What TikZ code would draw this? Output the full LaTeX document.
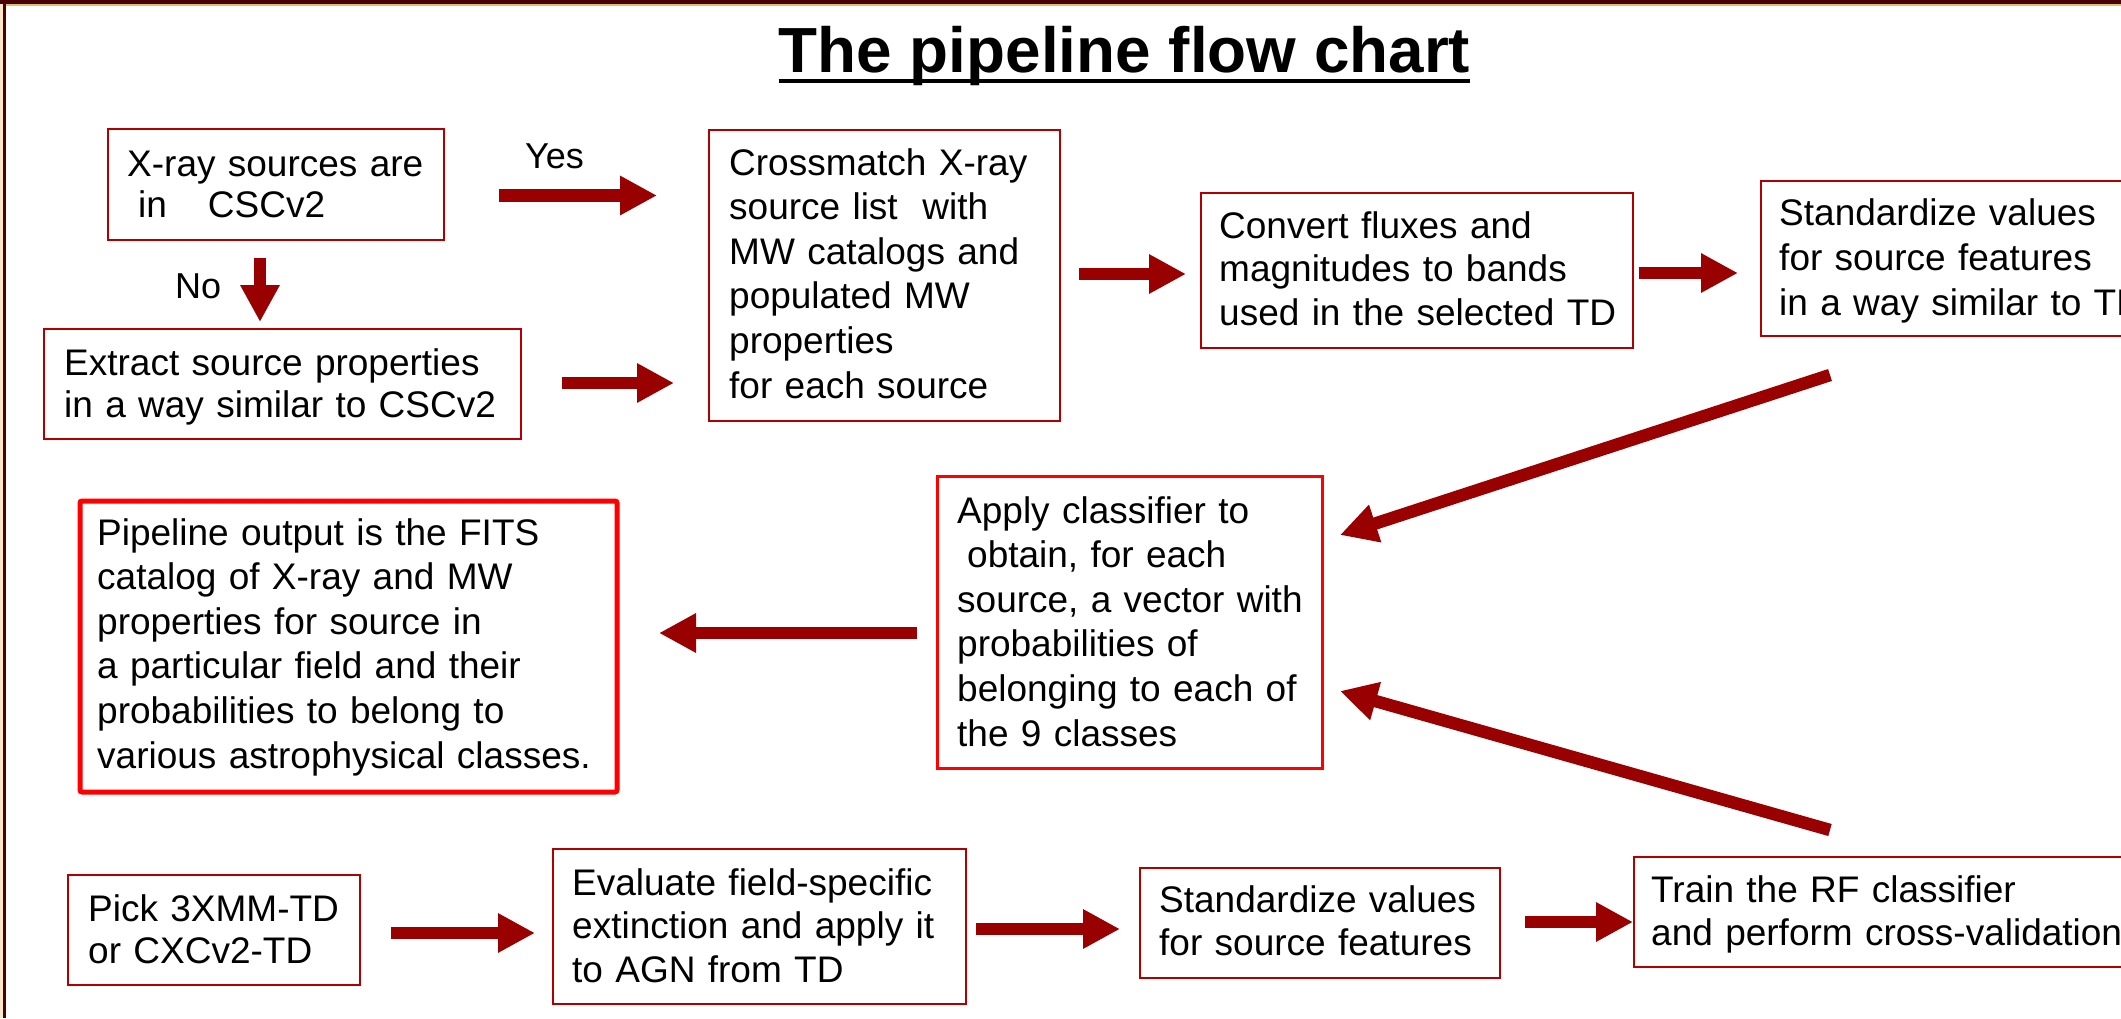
\documentclass[tikz,border=0pt]{standalone}
\usepackage{fontspec}
\setmainfont{Liberation Sans}
\usetikzlibrary{arrows.meta}

\definecolor{boxred}{RGB}{178,0,0}
\definecolor{arrowred}{RGB}{153,0,0}
\definecolor{brightred}{RGB}{255,0,0}
\definecolor{framedark}{RGB}{75,0,8}
\definecolor{framegold}{RGB}{215,195,110}
\definecolor{framebeige}{RGB}{250,230,200}

\tikzset{
  box/.style={draw=boxred, line width=1.8pt, anchor=north west, inner sep=0pt, fill=white},
  redbox/.style={draw=brightred, anchor=north west, inner sep=0pt, fill=white},
  txt/.style={anchor=base west, inner sep=0pt, text width=700pt, align=left,
              font=\fontsize{37}{#1}\selectfont},
  txt/.default=44.6,
  blockarrow/.style={draw=arrowred, line width=12.5pt,
              -{Triangle[width=37pt,length=37pt]}},
  lbl/.style={anchor=base west, inner sep=0pt, font=\fontsize{36}{40}\selectfont}
}

\begin{document}
\begin{tikzpicture}[x=1pt,y=-1pt]
  \useasboundingbox (0,0) rectangle (2121,1018);
  \clip (0,0) rectangle (2121,1018);
  \fill[white] (0,0) rectangle (2121,1018);

  % slide frame
  \fill[framebeige] (0,0) rectangle (3.3,1018);
  \fill[framedark] (3.3,0) rectangle (6,1018);
  \fill[framedark] (0,0) rectangle (2121,4);
  \fill[framegold] (6,4) rectangle (2121,6);

  % title
  \node[anchor=base, inner sep=0pt, font=\fontsize{63.8}{70}\selectfont\bfseries]
    (title) at (1124.5,72) {The pipeline flow chart};
  \draw[line width=4pt] ([yshift=-9pt]title.base west) -- ([yshift=-9pt]title.base east);

  % boxes
  \node[box, minimum width=336pt, minimum height=111pt] (src) at (107,128) {};
  \node[box, minimum width=477pt, minimum height=110pt] (extract) at (43,328) {};
  \node[box, minimum width=351pt, minimum height=291pt] (cross) at (708,129) {};
  \node[box, minimum width=432pt, minimum height=155pt] (convert) at (1200,192) {};
  \node[box, minimum width=500pt, minimum height=155pt] (stdA) at (1760,180) {};
  \node[redbox, line width=3pt, minimum width=385pt, minimum height=292pt] (apply) at (936,475) {};
  \node[redbox, line width=5pt, rounded corners=2pt, minimum width=537pt, minimum height=291pt] (output) at (77.5,498.5) {};
  \node[box, minimum width=292pt, minimum height=110pt] (pick) at (67,874) {};
  \node[box, minimum width=413pt, minimum height=155pt] (extinct) at (552,848) {};
  \node[box, minimum width=360pt, minimum height=110pt] (stdB) at (1139,867) {};
  \node[box, minimum width=600pt, minimum height=110pt] (train) at (1633,856) {};

  % box texts
  \node[txt=41] (srcT) at (127,176) {X-ray sources are\\\hspace*{11pt}in\hspace{41pt}CSCv2};
  \node[txt=42] (extractT) at (64,375) {Extract source properties\\in a way similar to CSCv2};
  \node[txt=44.6] (crossT) at (729,175) {Crossmatch X-ray\\source list\ \ with\\MW catalogs and\\populated MW\\properties\\for each source};
  \node[txt=43.5] (convertT) at (1219,238) {Convert fluxes and\\magnitudes to bands\\used in the selected TD};
  \node[txt=45] (stdAT) at (1779,225) {Standardize values\\for source features\\in a way similar to TD};
  \node[txt=44.6] (applyT) at (957,523) {Apply classifier to\\\hspace*{10pt}obtain, for each\\source, a vector with\\probabilities of\\belonging to each of\\the 9 classes};
  \node[txt=44.6] (outputT) at (97,545) {Pipeline output is the FITS\\catalog of X-ray and MW\\properties for source in\\a particular field and their\\probabilities to belong to\\various astrophysical classes.};
  \node[txt=42] (pickT) at (88,921) {Pick 3XMM-TD\\or CXCv2-TD};
  \node[txt=43.5] (extinctT) at (572,895) {Evaluate field-specific\\extinction and apply it\\to AGN from TD};
  \node[txt=43] (stdBT) at (1159,912) {Standardize values\\for source features};
  \node[txt=43] (trainT) at (1651,902) {Train the RF classifier\\and perform cross-validation};

  % branch labels
  \node[lbl] (yes) at (525,168) {Yes};
  \node[lbl] (no) at (175,298) {No};

  % arrow end points
  \coordinate (yesS) at (499,195.5);  \coordinate (yesE) at (657,195.5);
  \coordinate (noS)  at (260,258);    \coordinate (noE)  at (260,322);
  \coordinate (exS)  at (562,383);    \coordinate (exE)  at (674,383);
  \coordinate (crS)  at (1079,274);   \coordinate (crE)  at (1186,274);
  \coordinate (cvS)  at (1639,273);   \coordinate (cvE)  at (1738,273);
  \coordinate (d1S)  at (1830,375);   \coordinate (d1E)  at (1340,535);
  \coordinate (d2S)  at (1830,830);   \coordinate (d2E)  at (1340,691);
  \coordinate (apS)  at (917,633);    \coordinate (apE)  at (659,633);
  \coordinate (pkS)  at (391,933);    \coordinate (pkE)  at (535,933);
  \coordinate (evS)  at (976,929);    \coordinate (evE)  at (1120,929);
  \coordinate (sbS)  at (1525,922);   \coordinate (sbE)  at (1633,922);

  % connectors
  \draw[blockarrow] (yesS) -- (yesE);
  \draw[blockarrow] (noS) -- (noE);
  \draw[blockarrow] (exS) -- (exE);
  \draw[blockarrow] (crS) -- (crE);
  \draw[blockarrow] (cvS) -- (cvE);
  \draw[blockarrow] (d1S) -- (d1E);
  \draw[blockarrow] (d2S) -- (d2E);
  \draw[blockarrow] (apS) -- (apE);
  \draw[blockarrow] (pkS) -- (pkE);
  \draw[blockarrow] (evS) -- (evE);
  \draw[blockarrow] (sbS) -- (sbE);
\end{tikzpicture}
\end{document}
